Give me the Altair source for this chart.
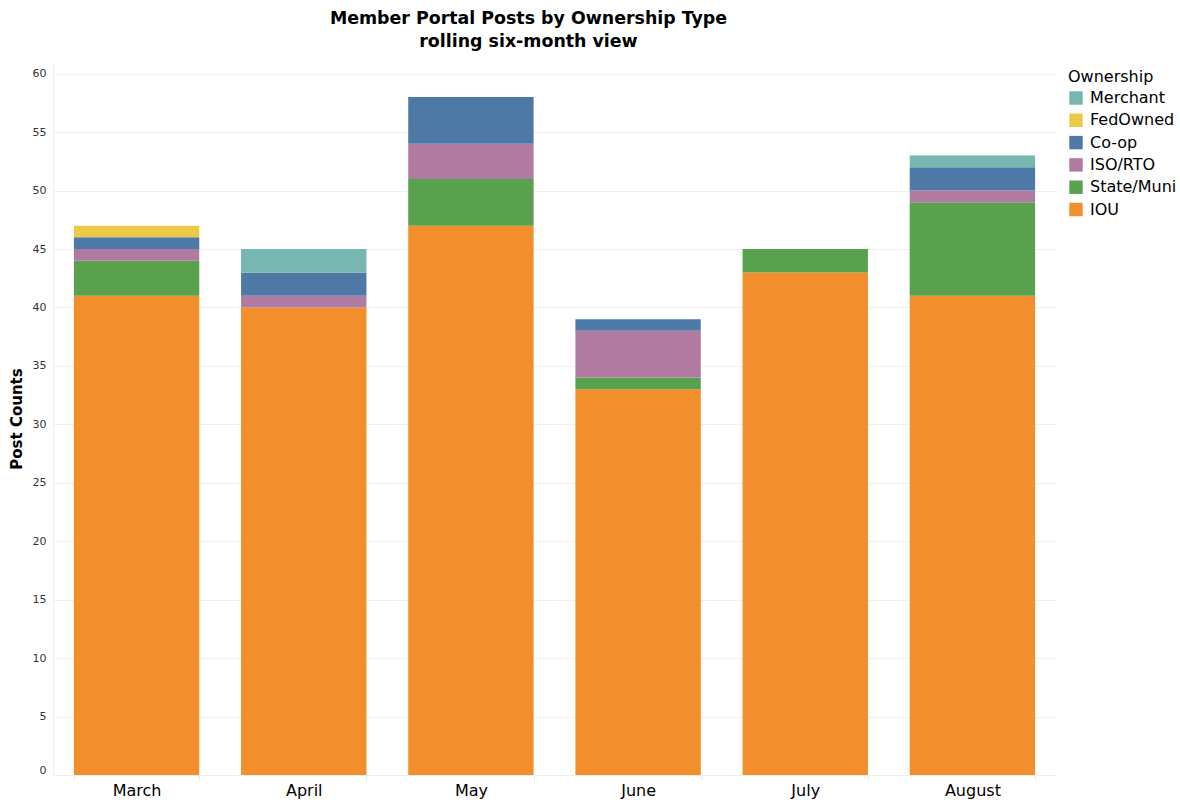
import altair as alt
import pandas as pd

# Monthly post counts per ownership type
months = ["March", "April", "May", "June", "July", "August"]
ownership = ["IOU", "State/Muni", "ISO/RTO", "Co-op", "FedOwned", "Merchant"]
iou = [41, 40, 47, 33, 43, 41]
state_muni = [3, 0, 4, 1, 2, 8]
iso_rto = [1, 1, 3, 4, 0, 1]
co_op = [1, 2, 4, 1, 0, 2]
fed_owned = [1, 0, 0, 0, 0, 0]
merchant = [0, 2, 0, 0, 0, 1]

colors = {
    "IOU": "#f28e2b",
    "State/Muni": "#59a14f",
    "ISO/RTO": "#b07aa1",
    "Co-op": "#4e79a7",
    "FedOwned": "#edc948",
    "Merchant": "#76b7b2",
}
legend_order = ["Merchant", "FedOwned", "Co-op", "ISO/RTO", "State/Muni", "IOU"]

series = [iou, state_muni, iso_rto, co_op, fed_owned, merchant]
rows = []
for rank, (name, values) in enumerate(zip(ownership, series)):
    for month, v in zip(months, values):
        if v > 0:
            rows.append({"Month": month, "Ownership": name, "Posts": v, "Rank": rank})
df = pd.DataFrame(rows)

FONT = "DejaVu Sans"
LIGHT = "#eeeeee"

bars = alt.Chart(df).mark_bar().encode(
    x=alt.X(
        "Month:N",
        sort=months,
        title=None,
        scale=alt.Scale(paddingInner=0.25, paddingOuter=0.125),
        axis=alt.Axis(
            labelAngle=0,
            labelFontSize=16,
            labelColor="#000000",
            labelFont=FONT,
            tickBand="extent",
            ticks=True,
            tickSize=5,
            tickColor="#e4e4e4",
            domainColor=LIGHT,
            grid=False,
            labelPadding=2,
        ),
    ),
    y=alt.Y(
        "Posts:Q",
        stack="zero",
        title="Post Counts",
        scale=alt.Scale(domain=[0, 61], nice=False),
        axis=alt.Axis(
            values=list(range(0, 61, 5)),
            labelFontSize=11,
            labelColor="#333333",
            labelFont=FONT,
            labelPadding=7,
            labelFlush=True,
            ticks=False,
            grid=True,
            gridColor="#f0f0f0",
            domainColor=LIGHT,
            titleFont=FONT,
            titleFontSize=15,
            titleFontWeight="bold",
            titleColor="#000000",
            titlePadding=8,
        ),
    ),
    color=alt.Color(
        "Ownership:N",
        scale=alt.Scale(domain=legend_order, range=[colors[k] for k in legend_order]),
        legend=alt.Legend(
            title="Ownership",
            orient="none",
            legendX=1015,
            legendY=7,
            titleFont=FONT,
            titleFontSize=16,
            titleFontWeight="normal",
            titleColor="#000000",
            labelFont=FONT,
            labelFontSize=16,
            labelColor="#000000",
            symbolType="square",
            symbolSize=180,
            symbolStrokeWidth=0,
            rowPadding=6.3,
            labelOffset=6,
            titlePadding=5,
        ),
    ),
    order=alt.Order("Rank:Q", sort="ascending"),
)

chart = bars.properties(
    width=1003,
    height=713,
    autosize=alt.AutoSizeParams(type="none"),
    padding={"left": 53, "top": 62, "right": 121, "bottom": 27},
    title=alt.TitleParams(
        text=["Member Portal Posts by Ownership Type", "rolling six-month view"],
        font=FONT,
        fontSize=17.4,
        fontWeight="bold",
        color="#000000",
        anchor="middle",
        dx=-26,
        offset=12,
        lineHeight=23,
    ),
).configure(background="#ffffff").configure_view(stroke=None)

chart.save("out.html", embed_options={"renderer": "svg", "actions": False})
